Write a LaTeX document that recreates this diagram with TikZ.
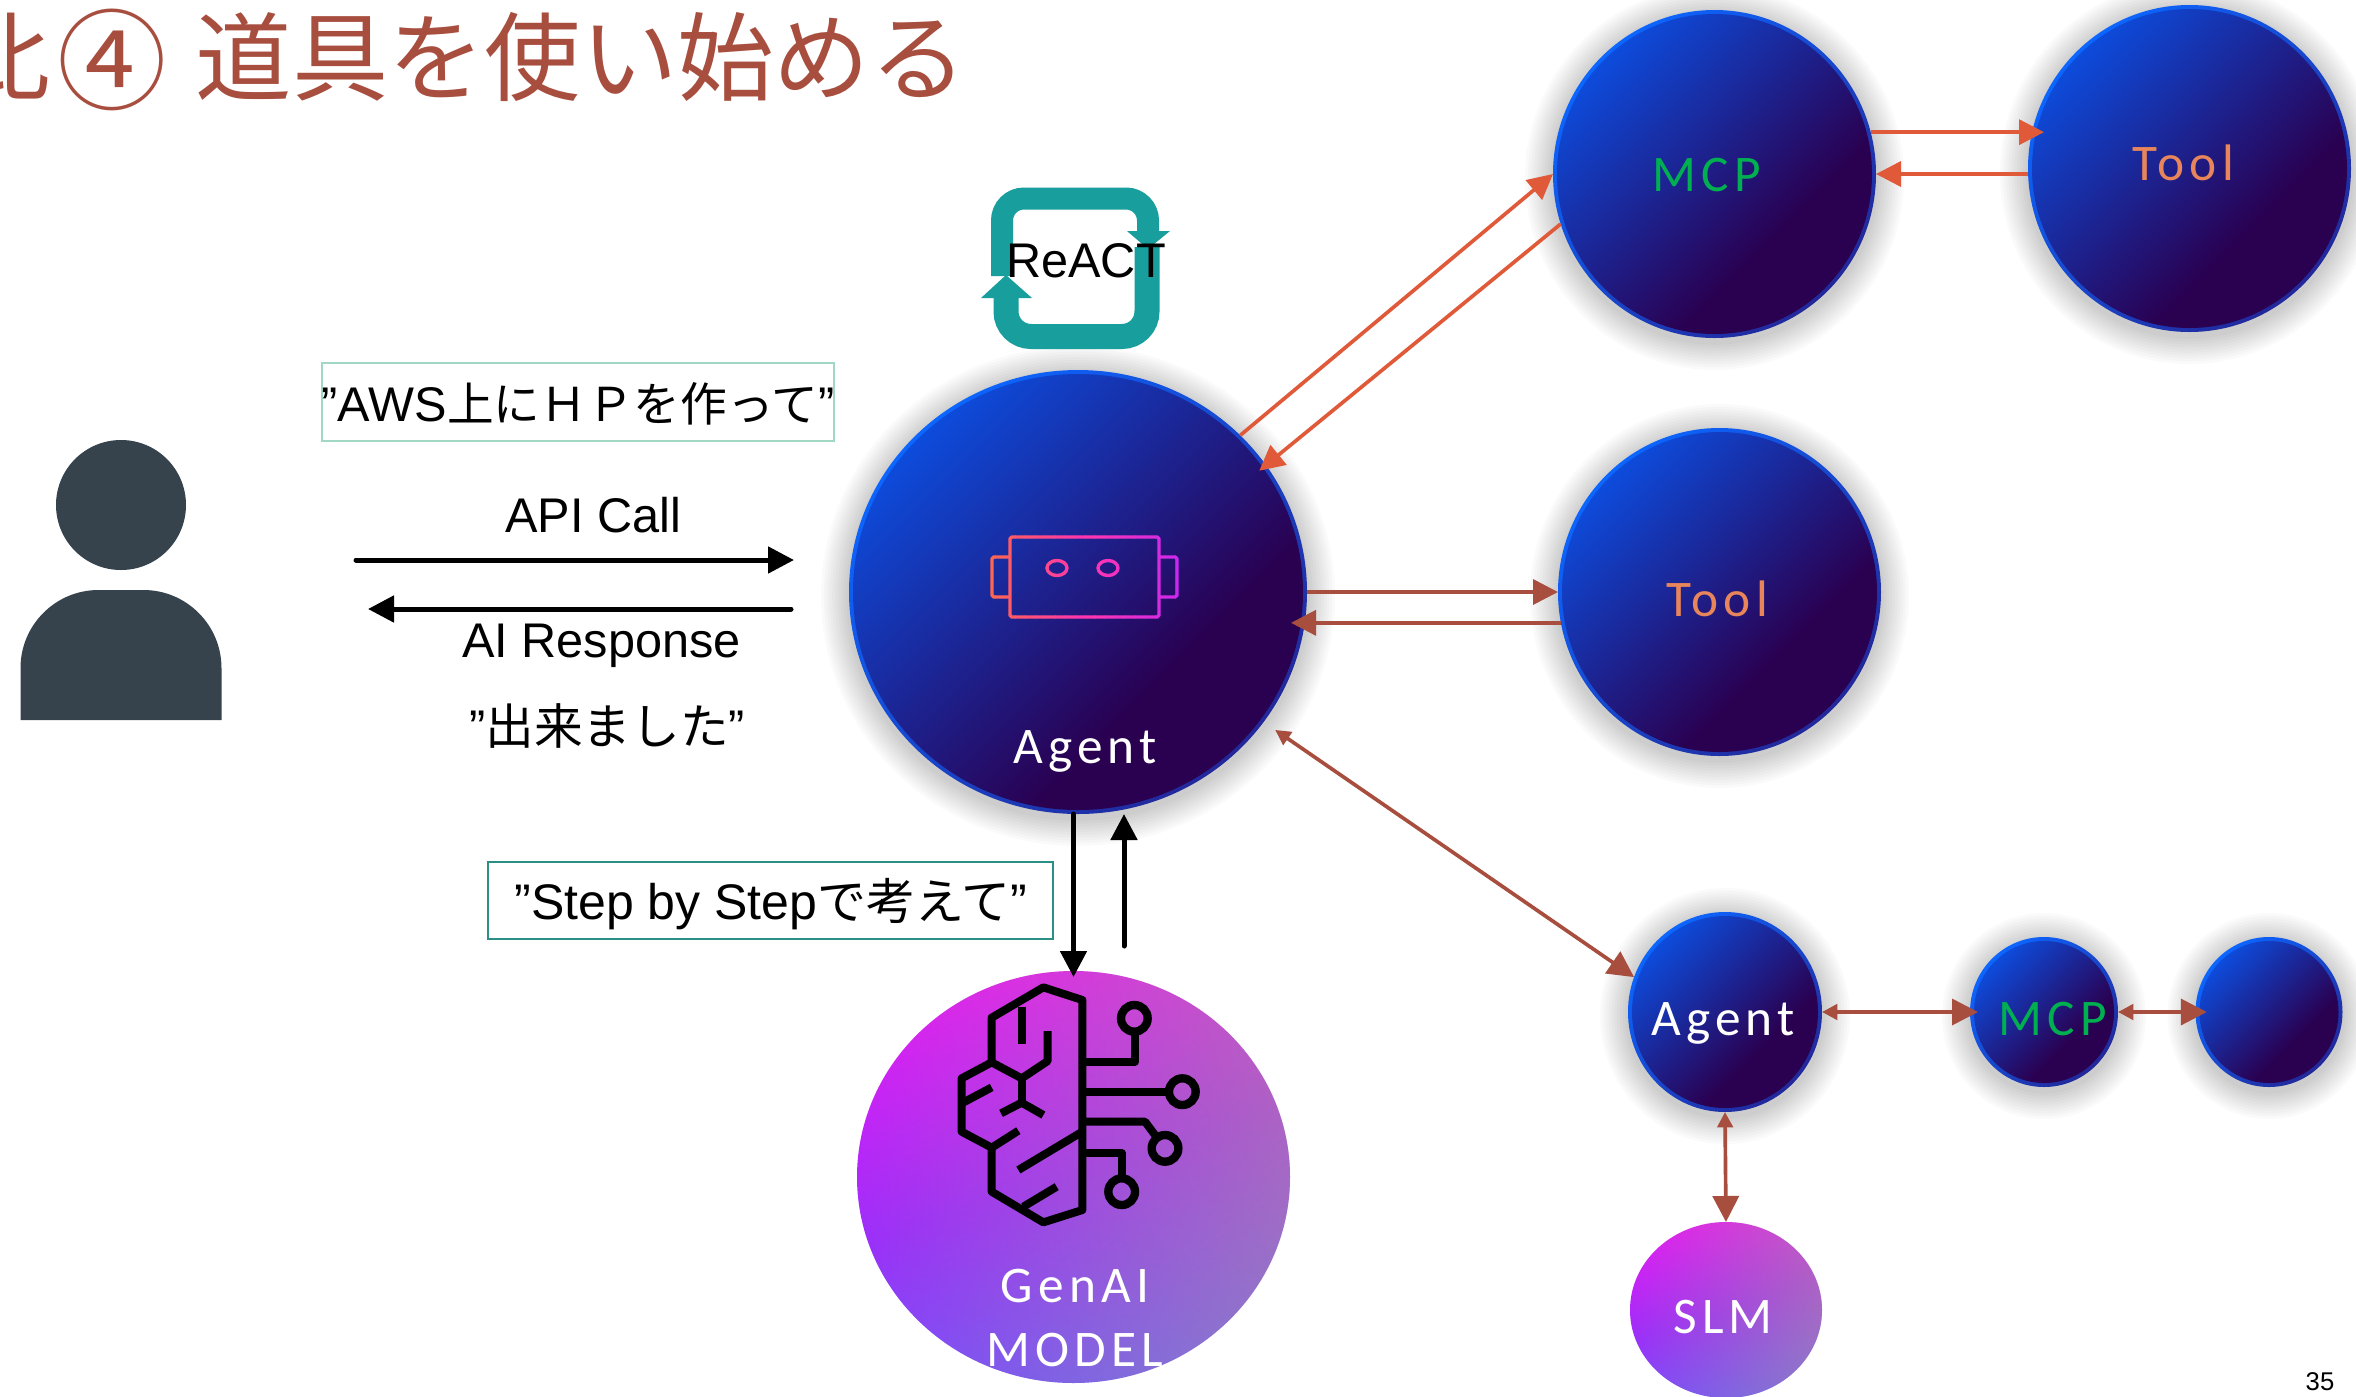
\documentclass[tikz,border=0pt]{standalone}
\usepackage{fontspec}
\usetikzlibrary{arrows.meta,shapes.geometric,fadings,calc}
\setmainfont{Liberation Sans}
\newfontfamily\jp{Noto Sans CJK JP}
\newfontfamily\lab[LetterSpace=10]{Carlito}
\definecolor{titlec}{HTML}{A84E3F}
\definecolor{orangec}{HTML}{E05A3A}
\definecolor{brownc}{HTML}{A84E3F}
\definecolor{tealc}{HTML}{189E9C}
\definecolor{usrc}{HTML}{36434D}
\definecolor{boxa}{HTML}{A0D8C4}
\definecolor{boxb}{HTML}{2B8F85}
\definecolor{mcpc}{HTML}{00B050}
\definecolor{toolc}{HTML}{E8855A}
\definecolor{ba}{HTML}{0D4BDB}
\definecolor{bb}{HTML}{2A0050}
\definecolor{ea}{HTML}{0C66FF}
\definecolor{eb}{HTML}{22289A}
\definecolor{ma}{HTML}{DC1CF5}
\definecolor{mb}{HTML}{9A30FA}
\definecolor{mc}{HTML}{6A55FF}
\definecolor{rbA}{HTML}{FF6650}
\definecolor{rbB}{HTML}{FF35B0}
\definecolor{rbC}{HTML}{C828F0}
\pgfdeclarehorizontalshading{bluefill}{100bp}{color(0bp)=(ba);color(25bp)=(ba);color(64bp)=(bb);color(100bp)=(bb)}
\pgfdeclarehorizontalshading{blueedge}{100bp}{color(0bp)=(ea);color(25bp)=(ea);color(75bp)=(eb);color(100bp)=(eb)}
\pgfdeclareverticalshading{magfill}{100bp}{color(0bp)=(mc);color(25bp)=(mc);color(50bp)=(mb);color(75bp)=(ma);color(100bp)=(ma)}
\tikzfading[name=toeast,left color=transparent!100,right color=transparent!58]
\tikzset{
  discbase/.style={ellipse,inner sep=0pt,outer sep=0pt},
  txt/.style={inner sep=0pt,anchor=base,font=\fontsize{14.6}{17}\selectfont},
  disctxt/.style={inner sep=0pt,anchor=base,font=\fontsize{15.4}{18}\selectfont\lab,text=white},
  bk/.style={line width=1.5pt,black,line cap=round,-{Triangle[length=7.8pt,width=7.8pt]}},
  org/.style={line width=1.1pt,orangec,-{Triangle[length=7.5pt,width=7.5pt]}},
  brn/.style={line width=1.1pt,brownc,-{Triangle[length=7.5pt,width=7.5pt]}},
  brnd/.style={line width=1.1pt,brownc,{Triangle[length=4.6pt,width=4.6pt]}-{Triangle[length=7.8pt,width=7.8pt]}},
  brainline/.style={line width=2.4pt,black,line join=round},
  brainring/.style={line width=2.5pt,black},
  robot/.style={line width=1pt,line join=round},
}
\newcommand{\mydisc}[5]{%
  \foreach \k in {1,...,10}{\fill[black,opacity=.018] (#2,#3+4) ellipse [x radius=#4+\k*2.8,y radius=#5+\k*2.8];}
  \node[discbase,shading=blueedge,shading angle=-45,minimum width={2*#4*0.3pt},minimum height={2*#5*0.3pt}] (#1) at (#2,#3) {};
  \node[discbase,shading=bluefill,shading angle=-45,minimum width={2*(#4-4)*0.3pt},minimum height={2*(#5-4)*0.3pt}] (#1in) at (#2,#3) {};
}
\newcommand{\mymag}[5]{%
  \node[discbase,shading=magfill,shading angle=18,minimum width={2*#4*0.3pt},minimum height={2*#5*0.3pt}] (#1) at (#2,#3) {};
  \fill[color={rgb,255:red,200;green,170;blue,120},path fading=toeast,fit fading=true] (#2,#3) ellipse [x radius=#4,y radius=#5];
}
\newcommand{\robotshape}{%
  \draw[robot,stripc,rounded corners=0.5pt] (1010,537) rectangle (1159,617);
  \draw[robot,stripc,rounded corners=0.5pt] (1010,557) -- (992,557) -- (992,597) -- (1010,597);
  \draw[robot,stripc,rounded corners=0.5pt] (1159,557) -- (1177,557) -- (1177,597) -- (1159,597);
  \draw[robot,stripc] (1057,568) ellipse [x radius=10,y radius=7.5];
  \draw[robot,stripc] (1108,568) ellipse [x radius=10,y radius=7.5];
}
\begin{document}
\begin{tikzpicture}[x=0.3pt,y=-0.3pt]
\useasboundingbox (0,0) rectangle (2356,1397);
\clip (0,0) rectangle (2356,1397);
\fill[white] (0,0) rectangle (2356,1397);

% title
\node[inner sep=0pt,anchor=base west,text=titlec,font=\fontsize{28.9}{34}\selectfont\jp] (title) at (-46,93)
  {比\hspace{2pt}\raisebox{-2.4pt}{\fontsize{32.8}{34}\selectfont ④}\hspace{8.7pt}道具を使い始める};

% person
\node[circle,fill=usrc,inner sep=0pt,minimum size={130*0.3pt}] (userhead) at (121,505) {};
\fill[usrc] (20.5,720) -- (20.5,668) .. controls (20.5,625) and (55.5,590) .. (98.5,590) -- (143.5,590) .. controls (186.5,590) and (221.5,625) .. (221.5,668) -- (221.5,720) -- cycle;

% discs
\mydisc{mcp}{1714.5}{174}{161.5}{164}
\mydisc{tooltop}{2189.5}{168.5}{161.5}{163.5}
\mydisc{toolmid}{1719.5}{592}{161.5}{164}
\mydisc{agent}{1078}{592}{229}{222}
\mydisc{agentb}{1725}{1012}{97}{100}
\mydisc{mcpb}{2044}{1012}{74}{75}
\mydisc{blank}{2269}{1012}{73.5}{75}
\mymag{genai}{1073.5}{1177}{216.5}{206}
\mymag{slm}{1726}{1310}{96}{88}

% robot icon
\foreach \i in {0,...,19}{
  \pgfmathsetmacro\sx{985+10*\i}
  \ifnum\i<10
    \pgfmathtruncatemacro\pa{\i*100/9}
    \colorlet{stripc}{rbB!\pa!rbA}
  \else
    \pgfmathtruncatemacro\pa{(\i-10)*100/9}
    \colorlet{stripc}{rbC!\pa!rbB}
  \fi
  \begin{scope}
    \clip (\sx,530) rectangle (\sx+10.5,625);
    \robotshape
  \end{scope}
}

% ReACT loop
\draw[tealc,line width=6.6pt,rounded corners=6.6pt] (1002,276) -- (1002,198.5) -- (1148,198.5) -- (1148,233);
\draw[tealc,line width=7.5pt,rounded corners=7.5pt] (1147,247) -- (1147,336.5) -- (1006,336.5) -- (1006,297);
\fill[tealc] (1127,231) -- (1170,231) -- (1148,249) -- cycle;
\fill[tealc] (981,298) -- (1032,298) -- (1006,275) -- cycle;
\node[txt] (react) at (1086,277) {ReACT};

% brain icon
\begin{scope}[shift={(840,950)},x=0.1pt,y=-0.1pt]
  \draw[brainline] (727,150) -- (610,112) -- (455,203) -- (455,337) -- (365,385) -- (365,545) -- (455,593) -- (455,725) -- (610,817) -- (727,780) -- cycle;
  \draw[brainline] (455,337) -- (545,385) -- (623,333) -- (623,243);
  \draw[brainline] (545,385) -- (545,458);
  \draw[brainline] (483,490) -- (545,458) -- (610,495);
  \draw[brainline] (545,170) -- (545,283);
  \draw[brainline] (365,460) -- (455,412);
  \draw[brainline] (455,593) -- (535,542);
  \draw[brainline] (535,660) -- (727,545);
  \draw[brainline] (550,770) -- (650,710);
  \draw[brainline] (727,335) -- (885,335) -- (885,250);
  \draw[brainline] (727,425) -- (985,425);
  \draw[brainline] (727,515) -- (915,515) -- (945,555);
  \draw[brainline] (727,610) -- (845,610) -- (845,680);
  \draw[brainring] (883,205) circle [radius=40];
  \draw[brainring] (1027,425) circle [radius=40];
  \draw[brainring] (975,595) circle [radius=40];
  \draw[brainring] (845,725) circle [radius=40];
\end{scope}

% labels
\node[disctxt] (agentlab) at (1085,763) {Agent};
\node[disctxt,text=mcpc] (mcplab) at (1707,191) {MCP};
\node[disctxt,text=toolc] (tooltoplab) at (2183,180) {Tool};
\node[disctxt,text=toolc] (toolmidlab) at (1717,616) {Tool};
\node[disctxt] (agentblab) at (1723,1035) {Agent};
\node[disctxt,text=mcpc] (mcpblab) at (2053,1035) {MCP};
\node[disctxt] (slmlab) at (1723,1333) {SLM};
\node[disctxt] (genailab) at (1075,1302) {GenAI};
\node[disctxt] (modellab) at (1075,1366) {MODEL};

% text boxes and labels
\node[draw=boxa,line width=0.5pt,inner sep=0pt,minimum width={512*0.3pt},minimum height={78*0.3pt}] (boxaws) at (578,402) {};
\node[txt] (awstxt) at (578,421) {”AWS{\jp\fontsize{14}{17}\selectfont 上にＨＰを作って}”};
\node[draw=boxb,line width=0.5pt,inner sep=0pt,minimum width={565*0.3pt},minimum height={77*0.3pt}] (boxstep) at (770.5,900.5) {};
\node[txt,font=\fontsize{15}{18}\selectfont] (steptxt) at (771,919) {”Step by Step{\jp\fontsize{14.7}{18}\selectfont で考えて}”};
\node[txt] (apitxt) at (593,532) {API Call};
\node[txt] (resptxt) at (601.5,657) {AI Response};
\node[txt] (donetxt) at (607,744) {”{\jp 出来ました}”};
\node[inner sep=0pt,anchor=base,font=\fontsize{7.7}{9}\selectfont] (pageno) at (2320,1390) {35};

% connectors
\coordinate (apistart) at (356,560);
\coordinate (apiend) at (794,560);
\coordinate (respstart) at (791,609);
\coordinate (respend) at (368,609);
\coordinate (backstart) at (1124,946);
\draw[bk] (apistart) -- (apiend);
\draw[bk] (respstart) -- (respend);
\draw[bk,shorten >=-1.8pt] (agent.south -| genai.north) -- (genai.north);
\draw[bk] (backstart) -- (backstart |- agent.south);

\draw[org] (agent.44) -- (mcp.west);
\draw[org,shorten >=-2.6pt] (mcp.198) -- (agent.34);
\draw[org,shorten >=-4.8pt] (mcp.15) -- (mcp.15 -| tooltop.west);
\draw[org] (tooltop.west |- mcp.east) -- (mcp.east);

\draw[brn] (agent.east) -- (toolmid.west);
\draw[brn,shorten >=-4.8pt] (toolmid.191) -- (toolmid.191 -| agent.east);

\draw[brnd,shorten <=4.2pt] (agent.-35.7) -- (agentb.159.5);
\draw[brnd,shorten >=-2.4pt] (agentb.east) -- (mcpb.west);
\draw[brnd,shorten >=-3.4pt] (mcpb.east) -- (blank.west);
\draw[brnd] (agentb.south) -- (slm.north);
\end{tikzpicture}
\end{document}
